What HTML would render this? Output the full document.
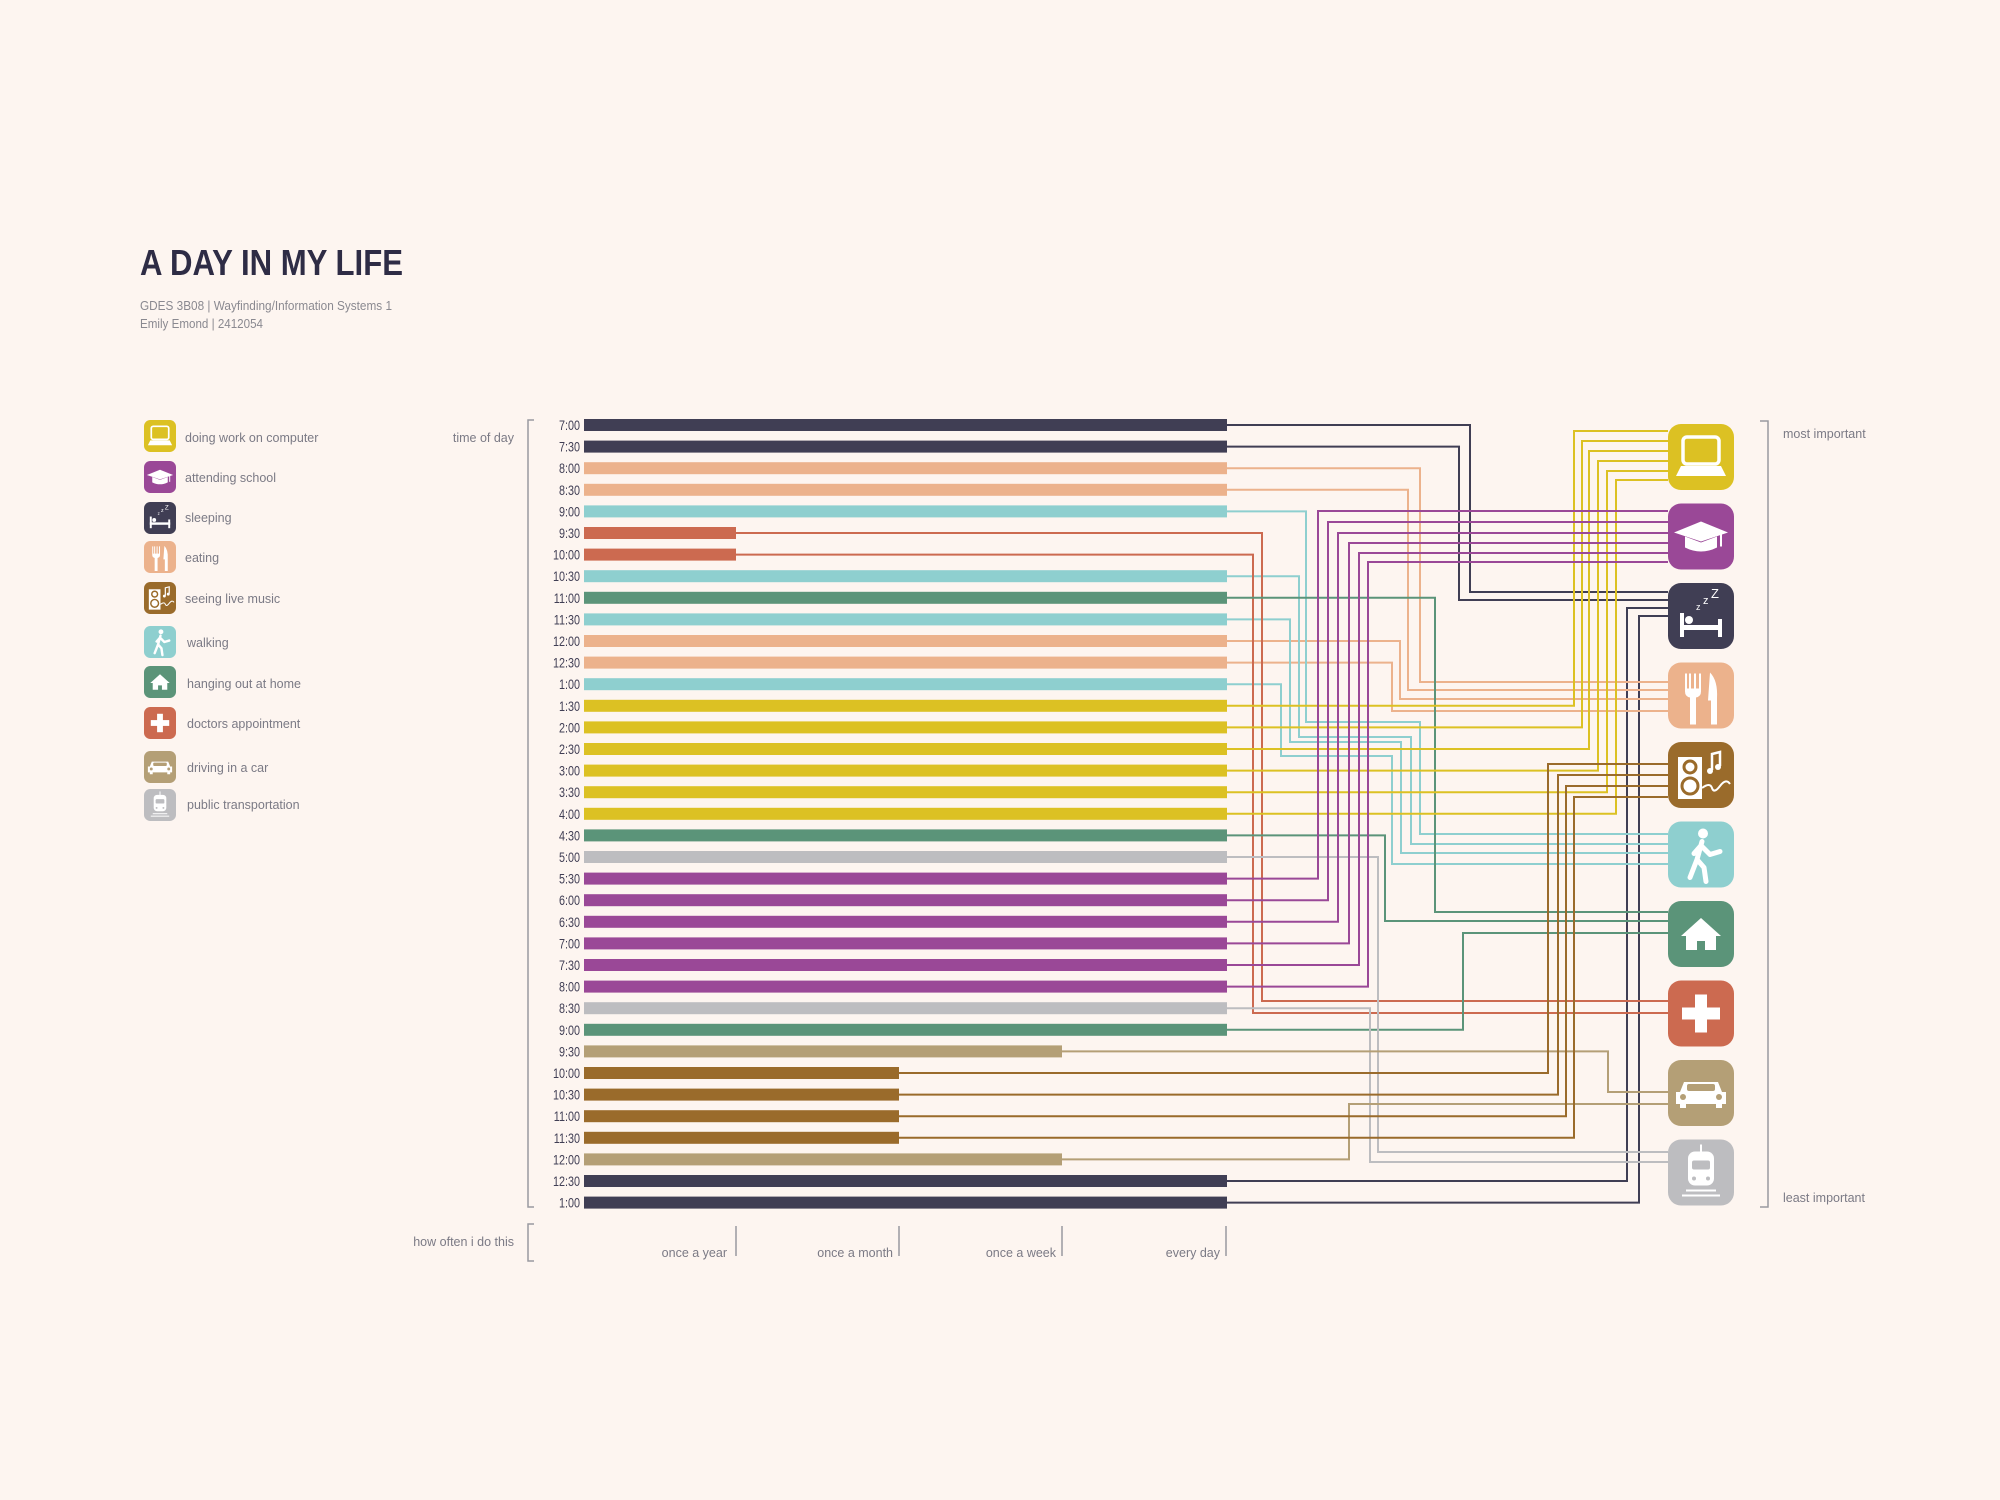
<!DOCTYPE html>
<html><head><meta charset="utf-8"><style>
html,body{margin:0;padding:0;background:#fdf5f0;}
svg{display:block;}
text{font-family:"Liberation Sans",sans-serif;}
</style></head><body>
<svg width="2000" height="1500" viewBox="0 0 2000 1500" xmlns="http://www.w3.org/2000/svg">
<defs>
<symbol id="i0" viewBox="0 0 66 66"><rect width="66" height="66" rx="13" fill="#dcc123"/><rect x="15" y="13" width="36" height="27" rx="4" fill="none" stroke="#fff" stroke-width="3.5"/><polygon points="13,42 53,42 58,52 8,52" fill="#fff"/></symbol>
<symbol id="i1" viewBox="0 0 66 66"><rect width="66" height="66" rx="13" fill="#9a4897"/><polygon points="33,18 60,29 33,38 6,29" fill="#fff"/><path d="M17 33 V44 Q33 52 49 44 V33 L33 39 Z" fill="#fff"/><rect x="52" y="29" width="2" height="14" fill="#fff"/></symbol>
<symbol id="i2" viewBox="0 0 66 66"><rect width="66" height="66" rx="13" fill="#403e54"/><rect x="12" y="30" width="4" height="24" fill="#fff"/><rect x="50" y="36" width="4" height="18" fill="#fff"/><rect x="12" y="42" width="42" height="5" fill="#fff"/><circle cx="21" cy="37" r="4" fill="#fff"/><text x="28" y="27" font-size="9" fill="#fff">z</text><text x="35" y="21" font-size="11" fill="#fff">z</text><text x="43" y="15" font-size="13" fill="#fff">Z</text></symbol>
<symbol id="i3" viewBox="0 0 66 66"><rect width="66" height="66" rx="13" fill="#ecb28c"/><path d="M17 11 V29 Q17 34 22 35 V62 H28 V35 Q33 34 33 29 V11 H31 V26 H28 V11 H26 V26 H23 V11 H21 V26 H19 V11 Z" fill="#fff"/><path d="M42 10 Q50 18 49 36 V62 H43 V38 H40 Z" fill="#fff"/></symbol>
<symbol id="i4" viewBox="0 0 66 66"><rect width="66" height="66" rx="13" fill="#9a6b2b"/><rect x="10" y="15" width="24" height="42" fill="#fff"/><circle cx="22" cy="25" r="6" fill="none" stroke="#9a6b2b" stroke-width="3"/><circle cx="22" cy="44" r="8" fill="none" stroke="#9a6b2b" stroke-width="3"/><path d="M44 28 V12 L52 10 V24" fill="none" stroke="#fff" stroke-width="2.5"/><circle cx="42" cy="29" r="3" fill="#fff"/><circle cx="50" cy="25" r="3" fill="#fff"/><path d="M34 46 Q42 40 44 46 T52 44 T62 42" fill="none" stroke="#fff" stroke-width="2"/></symbol>
<symbol id="i5" viewBox="0 0 66 66"><rect width="66" height="66" rx="13" fill="#8ecfcf"/><circle cx="35" cy="12" r="5" fill="#fff"/><path d="M34 20 L29 38 L22 56 M29 38 L36 46 L38 60 M33 24 L42 33 L52 30 M33 24 L26 32" fill="none" stroke="#fff" stroke-width="5" stroke-linecap="round" stroke-linejoin="round"/></symbol>
<symbol id="i6" viewBox="0 0 66 66"><rect width="66" height="66" rx="13" fill="#5b9479"/><polygon points="33,17 53,35 48,35 48,49 37,49 37,40 29,40 29,49 18,49 18,35 13,35" fill="#fff"/></symbol>
<symbol id="i7" viewBox="0 0 66 66"><rect width="66" height="66" rx="13" fill="#cc6a50"/><rect x="27" y="14" width="12" height="38" fill="#fff"/><rect x="14" y="27" width="38" height="12" fill="#fff"/></symbol>
<symbol id="i8" viewBox="0 0 66 66"><rect width="66" height="66" rx="13" fill="#b49f76"/><path d="M16 22 H50 L54 32 H58 V44 H54 V48 H48 V44 H18 V48 H12 V44 H8 V32 H12 Z" fill="#fff"/><rect x="19" y="24" width="28" height="7" rx="2" fill="#b49f76"/><circle cx="15" cy="37" r="3" fill="#b49f76"/><circle cx="51" cy="37" r="3" fill="#b49f76"/></symbol>
<symbol id="i9" viewBox="0 0 66 66"><rect width="66" height="66" rx="13" fill="#bdbdc0"/><rect x="20" y="12" width="26" height="34" rx="7" fill="#fff"/><rect x="32" y="5" width="2" height="8" fill="#fff"/><rect x="24" y="21" width="18" height="9" rx="2" fill="#bdbdc0"/><circle cx="26" cy="39" r="2" fill="#bdbdc0"/><circle cx="40" cy="39" r="2" fill="#bdbdc0"/><rect x="18" y="50" width="30" height="2" fill="#fff"/><rect x="14" y="55" width="38" height="2" fill="#fff"/></symbol>
</defs>
<rect width="2000" height="1500" fill="#fdf5f0"/>
<text x="140" y="275" font-size="36" font-weight="bold" fill="#2e2c45" textLength="263" lengthAdjust="spacingAndGlyphs">A DAY IN MY LIFE</text>
<text x="140" y="310" font-size="12.5" fill="#8a8990" textLength="252" lengthAdjust="spacingAndGlyphs">GDES 3B08 | Wayfinding/Information Systems 1</text>
<text x="140" y="328" font-size="12.5" fill="#8a8990" textLength="123" lengthAdjust="spacingAndGlyphs">Emily Emond | 2412054</text>

<g font-size="12.5" fill="#7b7a85">
<use href="#i0" x="144" y="420" width="32" height="32"/><text x="185" y="442">doing work on computer</text>
<use href="#i1" x="144" y="461" width="32" height="32"/><text x="185" y="482">attending school</text>
<use href="#i2" x="144" y="502" width="32" height="32"/><text x="185" y="522">sleeping</text>
<use href="#i3" x="144" y="541" width="32" height="32"/><text x="185" y="562">eating</text>
<use href="#i4" x="144" y="582" width="32" height="32"/><text x="185" y="603">seeing live music</text>
<use href="#i5" x="144" y="626" width="32" height="32"/><text x="187" y="647">walking</text>
<use href="#i6" x="144" y="666" width="32" height="32"/><text x="187" y="688">hanging out at home</text>
<use href="#i7" x="144" y="707" width="32" height="32"/><text x="187" y="728">doctors appointment</text>
<use href="#i8" x="144" y="751" width="32" height="32"/><text x="187" y="772">driving in a car</text>
<use href="#i9" x="144" y="789" width="32" height="32"/><text x="187" y="809">public transportation</text>
<text x="514" y="442" text-anchor="end">time of day</text>
<text x="514" y="1246" text-anchor="end">how often i do this</text>
<text x="727" y="1257" text-anchor="end">once a year</text>
<text x="893" y="1257" text-anchor="end">once a month</text>
<text x="1056" y="1257" text-anchor="end">once a week</text>
<text x="1220" y="1257" text-anchor="end">every day</text>
<text x="1783" y="438">most important</text>
<text x="1783" y="1202">least important</text>
</g>
<g fill="none" stroke="#9a9aa0" stroke-width="1.5">
<path d="M534 420 H528 V1207 H534"/><path d="M534 1224 H528 V1261 H534"/>
<path d="M1760 421 H1768 V1207 H1760"/>
<path d="M736 1226 V1256 M899 1226 V1256 M1062 1226 V1256 M1226 1226 V1256"/>
</g>

<g fill="#403e54" font-size="13.5" text-anchor="end" transform="translate(580 0) scale(0.8 1)">
<text x="0" y="430">7:00</text><text x="0" y="451.6">7:30</text><text x="0" y="473.2">8:00</text><text x="0" y="494.8">8:30</text><text x="0" y="516.4">9:00</text><text x="0" y="538">9:30</text><text x="0" y="559.6">10:00</text><text x="0" y="581.2">10:30</text><text x="0" y="602.8">11:00</text><text x="0" y="624.4">11:30</text><text x="0" y="646">12:00</text><text x="0" y="667.6">12:30</text><text x="0" y="689.2">1:00</text><text x="0" y="710.8">1:30</text><text x="0" y="732.4">2:00</text><text x="0" y="754">2:30</text><text x="0" y="775.6">3:00</text><text x="0" y="797.2">3:30</text><text x="0" y="818.8">4:00</text><text x="0" y="840.4">4:30</text><text x="0" y="862">5:00</text><text x="0" y="883.6">5:30</text><text x="0" y="905.2">6:00</text><text x="0" y="926.8">6:30</text><text x="0" y="948.4">7:00</text><text x="0" y="970">7:30</text><text x="0" y="991.6">8:00</text><text x="0" y="1013.2">8:30</text><text x="0" y="1034.8">9:00</text><text x="0" y="1056.4">9:30</text><text x="0" y="1078">10:00</text><text x="0" y="1099.6">10:30</text><text x="0" y="1121.2">11:00</text><text x="0" y="1142.8">11:30</text><text x="0" y="1164.4">12:00</text><text x="0" y="1186">12:30</text><text x="0" y="1207.6">1:00</text>
</g>

<g fill="none" stroke-width="2">
<path stroke="#403e54" d="M1227 425 H1470 V592 H1668 M1227 446.6 H1459 V600 H1668 M1227 1181 H1627 V608 H1668 M1227 1202.6 H1639 V616 H1668"/>
<path stroke="#ecb28c" d="M1227 468.2 H1420 V682 H1668 M1227 489.8 H1408 V690 H1668 M1227 641 H1400 V699 H1668 M1227 662.6 H1392 V711 H1668"/>
<path stroke="#8ecfcf" d="M1227 511.4 H1306 V722 H1420 V834 H1668 M1227 576.2 H1299 V737 H1411 V844 H1668 M1227 619.4 H1290 V742 H1401 V853 H1668 M1227 684.2 H1281 V756 H1392 V864 H1668"/>
<path stroke="#cc6a50" d="M736 533 H1262 V1001 H1668 M736 554.6 H1253 V1013 H1668"/>
<path stroke="#5b9479" d="M1227 597.8 H1435 V912 H1668 M1227 835.4 H1385 V921 H1668 M1227 1029.8 H1463 V933 H1668"/>
<path stroke="#dcc123" d="M1227 705.8 H1574 V431 H1668 M1227 727.4 H1582 V441 H1668 M1227 749 H1589 V451 H1668 M1227 770.6 H1598 V461 H1668 M1227 792.2 H1607 V471 H1668 M1227 813.8 H1616 V480 H1668"/>
<path stroke="#bdbdc0" d="M1227 857 H1378 V1152 H1668 M1227 1008.2 H1370 V1162 H1668"/>
<path stroke="#9a4897" d="M1227 878.6 H1318 V511 H1668 M1227 900.2 H1328 V522 H1668 M1227 921.8 H1338 V533 H1668 M1227 943.4 H1349 V543 H1668 M1227 965 H1359 V553 H1668 M1227 986.6 H1368 V562 H1668"/>
<path stroke="#b49f76" d="M1062 1051.4 H1608 V1092 H1668 M1062 1159.4 H1349 V1104 H1668"/>
<path stroke="#9a6b2b" d="M899 1073 H1548 V764 H1668 M899 1094.6 H1558 V775 H1668 M899 1116.2 H1566 V786 H1668 M899 1137.8 H1574 V797 H1668"/>
</g>

<g>
<rect x="584" y="419" width="643" height="12" fill="#403e54"/>
<rect x="584" y="440.6" width="643" height="12" fill="#403e54"/>
<rect x="584" y="462.2" width="643" height="12" fill="#ecb28c"/>
<rect x="584" y="483.8" width="643" height="12" fill="#ecb28c"/>
<rect x="584" y="505.4" width="643" height="12" fill="#8ecfcf"/>
<rect x="584" y="527" width="152" height="12" fill="#cc6a50"/>
<rect x="584" y="548.6" width="152" height="12" fill="#cc6a50"/>
<rect x="584" y="570.2" width="643" height="12" fill="#8ecfcf"/>
<rect x="584" y="591.8" width="643" height="12" fill="#5b9479"/>
<rect x="584" y="613.4" width="643" height="12" fill="#8ecfcf"/>
<rect x="584" y="635" width="643" height="12" fill="#ecb28c"/>
<rect x="584" y="656.6" width="643" height="12" fill="#ecb28c"/>
<rect x="584" y="678.2" width="643" height="12" fill="#8ecfcf"/>
<rect x="584" y="699.8" width="643" height="12" fill="#dcc123"/>
<rect x="584" y="721.4" width="643" height="12" fill="#dcc123"/>
<rect x="584" y="743" width="643" height="12" fill="#dcc123"/>
<rect x="584" y="764.6" width="643" height="12" fill="#dcc123"/>
<rect x="584" y="786.2" width="643" height="12" fill="#dcc123"/>
<rect x="584" y="807.8" width="643" height="12" fill="#dcc123"/>
<rect x="584" y="829.4" width="643" height="12" fill="#5b9479"/>
<rect x="584" y="851" width="643" height="12" fill="#bdbdc0"/>
<rect x="584" y="872.6" width="643" height="12" fill="#9a4897"/>
<rect x="584" y="894.2" width="643" height="12" fill="#9a4897"/>
<rect x="584" y="915.8" width="643" height="12" fill="#9a4897"/>
<rect x="584" y="937.4" width="643" height="12" fill="#9a4897"/>
<rect x="584" y="959" width="643" height="12" fill="#9a4897"/>
<rect x="584" y="980.6" width="643" height="12" fill="#9a4897"/>
<rect x="584" y="1002.2" width="643" height="12" fill="#bdbdc0"/>
<rect x="584" y="1023.8" width="643" height="12" fill="#5b9479"/>
<rect x="584" y="1045.4" width="478" height="12" fill="#b49f76"/>
<rect x="584" y="1067" width="315" height="12" fill="#9a6b2b"/>
<rect x="584" y="1088.6" width="315" height="12" fill="#9a6b2b"/>
<rect x="584" y="1110.2" width="315" height="12" fill="#9a6b2b"/>
<rect x="584" y="1131.8" width="315" height="12" fill="#9a6b2b"/>
<rect x="584" y="1153.4" width="478" height="12" fill="#b49f76"/>
<rect x="584" y="1175" width="643" height="12" fill="#403e54"/>
<rect x="584" y="1196.6" width="643" height="12" fill="#403e54"/>
</g>

<use href="#i0" x="1668" y="424" width="66" height="66"/>
<use href="#i1" x="1668" y="503.5" width="66" height="66"/>
<use href="#i2" x="1668" y="583" width="66" height="66"/>
<use href="#i3" x="1668" y="662.5" width="66" height="66"/>
<use href="#i4" x="1668" y="742" width="66" height="66"/>
<use href="#i5" x="1668" y="821.5" width="66" height="66"/>
<use href="#i6" x="1668" y="901" width="66" height="66"/>
<use href="#i7" x="1668" y="980.5" width="66" height="66"/>
<use href="#i8" x="1668" y="1060" width="66" height="66"/>
<use href="#i9" x="1668" y="1139.5" width="66" height="66"/>
</svg>
</body></html>
